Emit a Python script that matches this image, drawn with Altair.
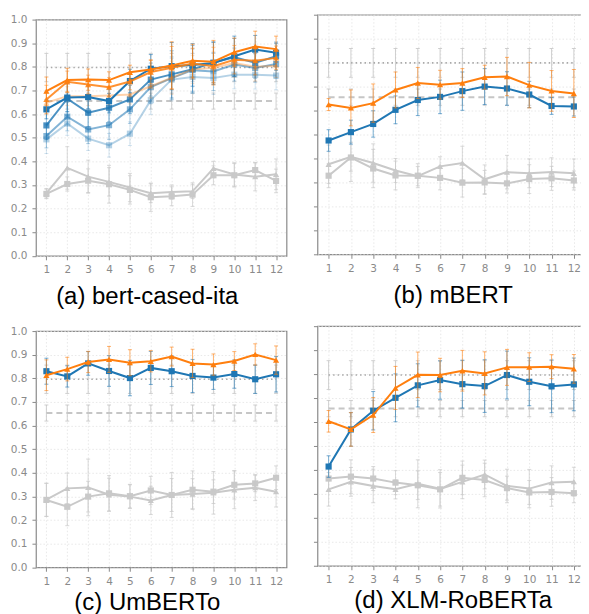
import altair as alt
import pandas as pd

LAYERS = list(range(1, 13))
Y_TICKS = [round(i * 0.1, 1) for i in range(11)]

ORANGE = "#ff7f0e"
BLUE = "#1f77b4"
GREY = "#c9c9c9"

# ---------------- (a) bert-cased-ita ----------------
A_O1 = [0.697, 0.744, 0.746, 0.744, 0.777, 0.789, 0.806, 0.826, 0.822, 0.862, 0.886, 0.875]
A_O1_ERR = [0.06, 0.05, 0.045, 0.035, 0.03, 0.04, 0.10, 0.07, 0.09, 0.06, 0.065, 0.055]
A_O2 = [0.662, 0.737, 0.725, 0.714, 0.738, 0.778, 0.796, 0.814, 0.803, 0.830, 0.826, 0.838]
A_O2_ERR = [0.06, 0.045, 0.04, 0.04, 0.035, 0.05, 0.09, 0.065, 0.08, 0.06, 0.06, 0.05]
A_O3 = [0.648, 0.676, 0.676, 0.679, 0.683, 0.718, 0.754, 0.789, 0.796, 0.816, 0.800, 0.805]
A_O3_ERR = [0.05, 0.04, 0.04, 0.04, 0.04, 0.05, 0.07, 0.06, 0.07, 0.06, 0.06, 0.05]
A_B1 = [0.620, 0.670, 0.672, 0.655, 0.740, 0.792, 0.803, 0.808, 0.816, 0.845, 0.873, 0.860]
A_B1_ERR = [0.04, 0.06, 0.05, 0.05, 0.05, 0.06, 0.10, 0.09, 0.09, 0.085, 0.06, 0.04]
A_B2 = [0.552, 0.665, 0.606, 0.627, 0.662, 0.746, 0.768, 0.790, 0.818, 0.840, 0.817, 0.845]
A_B2_ERR = [0.06, 0.07, 0.06, 0.06, 0.06, 0.07, 0.10, 0.10, 0.085, 0.08, 0.065, 0.06]
A_B3 = [0.507, 0.589, 0.535, 0.553, 0.620, 0.714, 0.752, 0.786, 0.780, 0.810, 0.795, 0.812]
A_B3_ERR = [0.05, 0.06, 0.06, 0.06, 0.06, 0.07, 0.09, 0.09, 0.08, 0.07, 0.06, 0.06]
A_B4 = [0.493, 0.560, 0.496, 0.468, 0.517, 0.659, 0.746, 0.757, 0.753, 0.767, 0.766, 0.763]
A_B4_ERR = [0.06, 0.05, 0.05, 0.05, 0.05, 0.06, 0.09, 0.07, 0.07, 0.06, 0.06, 0.06]
A_GT = [0.265, 0.372, 0.335, 0.313, 0.289, 0.265, 0.270, 0.273, 0.370, 0.344, 0.335, 0.345]
A_GT_ERR = [0.02, 0.09, 0.07, 0.06, 0.06, 0.04, 0.03, 0.03, 0.03, 0.05, 0.06, 0.065]
A_GS = [0.262, 0.304, 0.318, 0.303, 0.279, 0.248, 0.252, 0.259, 0.341, 0.341, 0.363, 0.317]
A_GS_ERR = [0.02, 0.03, 0.05, 0.08, 0.06, 0.06, 0.04, 0.05, 0.04, 0.05, 0.03, 0.05]

# ---------------- (b) mBERT ----------------
B_O = [0.625, 0.611, 0.631, 0.686, 0.715, 0.708, 0.715, 0.739, 0.742, 0.706, 0.682, 0.671]
B_O_ERR = [0.025, 0.075, 0.08, 0.075, 0.065, 0.06, 0.06, 0.05, 0.08, 0.095, 0.085, 0.10]
B_B = [0.475, 0.510, 0.544, 0.603, 0.644, 0.657, 0.681, 0.700, 0.692, 0.667, 0.619, 0.617]
B_B_ERR = [0.045, 0.05, 0.055, 0.058, 0.065, 0.07, 0.08, 0.075, 0.07, 0.055, 0.035, 0.04]
B_GT = [0.376, 0.407, 0.381, 0.350, 0.326, 0.367, 0.381, 0.313, 0.343, 0.338, 0.343, 0.338]
B_GT_ERR = [0.08, 0.06, 0.08, 0.05, 0.04, 0.04, 0.07, 0.06, 0.07, 0.06, 0.06, 0.06]
B_GS = [0.328, 0.404, 0.358, 0.329, 0.328, 0.319, 0.299, 0.300, 0.296, 0.314, 0.317, 0.308]
B_GS_ERR = [0.05, 0.10, 0.08, 0.06, 0.05, 0.05, 0.06, 0.05, 0.04, 0.06, 0.05, 0.04]

# ---------------- (c) UmBERTo ----------------
C_O = [0.813, 0.839, 0.869, 0.880, 0.866, 0.872, 0.892, 0.863, 0.858, 0.873, 0.901, 0.877]
C_O_ERR = [0.065, 0.05, 0.045, 0.055, 0.055, 0.045, 0.04, 0.06, 0.045, 0.04, 0.045, 0.06]
C_B = [0.830, 0.808, 0.863, 0.831, 0.801, 0.844, 0.830, 0.810, 0.803, 0.818, 0.796, 0.817]
C_B_ERR = [0.055, 0.045, 0.05, 0.065, 0.075, 0.07, 0.065, 0.07, 0.05, 0.06, 0.06, 0.075]
C_GT = [0.286, 0.334, 0.338, 0.307, 0.299, 0.283, 0.306, 0.310, 0.315, 0.328, 0.337, 0.320]
C_GT_ERR = [0.07, 0.065, 0.12, 0.07, 0.05, 0.06, 0.095, 0.065, 0.09, 0.08, 0.055, 0.065]
C_GS = [0.285, 0.256, 0.299, 0.313, 0.301, 0.325, 0.306, 0.328, 0.320, 0.349, 0.355, 0.379]
C_GS_ERR = [0.07, 0.08, 0.065, 0.075, 0.05, 0.06, 0.07, 0.08, 0.05, 0.06, 0.035, 0.05]

# ---------------- (d) XLM-RoBERTa ----------------
D_O = [0.603, 0.569, 0.629, 0.742, 0.797, 0.796, 0.814, 0.803, 0.828, 0.829, 0.831, 0.822]
D_O_ERR = [0.045, 0.07, 0.073, 0.09, 0.095, 0.07, 0.085, 0.09, 0.075, 0.06, 0.05, 0.06]
D_B = [0.414, 0.569, 0.647, 0.701, 0.753, 0.775, 0.758, 0.750, 0.796, 0.768, 0.749, 0.757]
D_B_ERR = [0.045, 0.07, 0.08, 0.10, 0.09, 0.08, 0.10, 0.11, 0.10, 0.10, 0.11, 0.11]
D_GT = [0.319, 0.350, 0.333, 0.319, 0.342, 0.321, 0.350, 0.381, 0.333, 0.322, 0.347, 0.351]
D_GT_ERR = [0.07, 0.06, 0.07, 0.04, 0.10, 0.08, 0.07, 0.06, 0.07, 0.08, 0.07, 0.06]
D_GS = [0.364, 0.372, 0.364, 0.347, 0.336, 0.319, 0.367, 0.358, 0.324, 0.306, 0.308, 0.303]
D_GS_ERR = [0.05, 0.07, 0.05, 0.05, 0.06, 0.07, 0.07, 0.07, 0.05, 0.05, 0.06, 0.04]

# reference baselines (dotted / dashed) with their spread
REF_DOTTED = [0.797, 0.799, 0.796, 0.796]
REF_DOTTED_ERR = 0.06
REF_DASHED = [0.655, 0.656, 0.653, 0.656]
REF_DASHED_ERR = 0.034

TITLES = ["(a) bert-cased-ita", "(b) mBERT", "(c) UmBERTo", "(d) XLM-RoBERTa"]

LEFT_W, LEFT_H = 251, 236.6
RIGHT_W, RIGHT_H = 268, 240


def frame(vals, errs):
    return pd.DataFrame({
        "layer": LAYERS,
        "acc": vals,
        "lo": [v - e for v, e in zip(vals, errs)],
        "hi": [v + e for v, e in zip(vals, errs)],
    })


def enc_x():
    return alt.X("layer:Q", scale=alt.Scale(domain=[0.5, 12.5], nice=False, zero=False),
                 axis=alt.Axis(values=LAYERS, title=None, format="d"))


def enc_y(field, labels):
    return alt.Y(field, scale=alt.Scale(domain=[0, 1], nice=False, zero=False),
                 axis=alt.Axis(values=Y_TICKS, title=None, format=".1f", labels=labels))


def series(df, color, opacity, shape, labels, err_op=None, size=38, sw=2):
    eo = opacity * 0.6 if err_op is None else err_op
    base = alt.Chart(df)
    rule = base.mark_rule(color=color, opacity=eo, strokeWidth=1).encode(
        x=enc_x(), y=enc_y("lo:Q", labels), y2="hi:Q")
    caps = base.transform_fold(["lo", "hi"], as_=["k", "v"]).mark_tick(
        orient="horizontal", size=4, thickness=1, color=color, opacity=eo).encode(
        x=enc_x(), y=enc_y("v:Q", labels))
    line = base.mark_line(color=color, opacity=opacity, strokeWidth=sw).encode(
        x=enc_x(), y=enc_y("acc:Q", labels))
    pts = base.mark_point(shape=shape, filled=True, size=size, color=color,
                          opacity=opacity, strokeWidth=0).encode(
        x=enc_x(), y=enc_y("acc:Q", labels))
    return [rule, caps, line, pts]


def reference(val, err, dash, color, width, labels):
    df = frame([val] * 12, [err] * 12)
    base = alt.Chart(df)
    rule = base.mark_rule(color="#c4c4c4", opacity=0.8, strokeWidth=1).encode(
        x=enc_x(), y=enc_y("lo:Q", labels), y2="hi:Q")
    caps = base.transform_fold(["lo", "hi"], as_=["k", "v"]).mark_tick(
        orient="horizontal", size=4, thickness=1, color="#c4c4c4", opacity=0.8).encode(
        x=enc_x(), y=enc_y("v:Q", labels))
    line = base.mark_line(color=color, strokeDash=dash, strokeWidth=width).encode(
        x=enc_x(), y=enc_y("acc:Q", labels))
    return [rule, caps], [line]


def panel(idx, groups, labels, w, h, dx, toff):
    r1e, r1l = reference(REF_DOTTED[idx], REF_DOTTED_ERR, [1.5, 3], "#a9a9a9", 1.6, labels)
    r2e, r2l = reference(REF_DASHED[idx], REF_DASHED_ERR, [6, 4], "#c6c6c6", 2, labels)
    layers = r1e + r2e + r1l + r2l
    for g in groups:
        layers += series(g[0], g[1], g[2], g[3], labels, *g[4:])
    return alt.layer(*layers).properties(
        width=w, height=h,
        title=alt.TitleParams(TITLES[idx], orient="bottom", anchor="middle",
                              font="Liberation Sans", fontSize=24, fontWeight="normal",
                              color="black", offset=toff, dx=dx, baseline="top"))


def spacer():
    return alt.Chart(pd.DataFrame({"layer": [1]})).mark_point(opacity=0, size=0).encode(
        x=alt.value(0), y=alt.value(0)
    ).properties(width=10, height=1, view={"stroke": "transparent", "strokeWidth": 0})


pa = panel(0, [
    (frame(A_GS, A_GS_ERR), GREY, 1.0, "square", 0.7),
    (frame(A_GT, A_GT_ERR), GREY, 1.0, "triangle-up", 0.7),
    (frame(A_B4, A_B4_ERR), BLUE, 0.33, "square"),
    (frame(A_B3, A_B3_ERR), BLUE, 0.55, "square"),
    (frame(A_B2, A_B2_ERR), BLUE, 0.8, "square"),
    (frame(A_O3, A_O3_ERR), ORANGE, 0.35, "triangle-up"),
    (frame(A_B1, A_B1_ERR), BLUE, 1.0, "square"),
    (frame(A_O2, A_O2_ERR), ORANGE, 0.85, "triangle-up"),
    (frame(A_O1, A_O1_ERR), ORANGE, 1.0, "triangle-up"),
], True, LEFT_W, LEFT_H, -14, 10)

pb = panel(1, [
    (frame(B_GS, B_GS_ERR), GREY, 1.0, "square", 0.7),
    (frame(B_GT, B_GT_ERR), GREY, 1.0, "triangle-up", 0.7),
    (frame(B_B, B_B_ERR), BLUE, 1.0, "square"),
    (frame(B_O, B_O_ERR), ORANGE, 1.0, "triangle-up"),
], False, RIGHT_W, RIGHT_H, 2, 10)

pc = panel(2, [
    (frame(C_GS, C_GS_ERR), GREY, 1.0, "square", 0.7),
    (frame(C_GT, C_GT_ERR), GREY, 1.0, "triangle-up", 0.7),
    (frame(C_B, C_B_ERR), BLUE, 1.0, "square"),
    (frame(C_O, C_O_ERR), ORANGE, 1.0, "triangle-up"),
], True, LEFT_W, LEFT_H, -14, 4)

pd_ = panel(3, [
    (frame(D_GS, D_GS_ERR), GREY, 1.0, "square", 0.7),
    (frame(D_GT, D_GT_ERR), GREY, 1.0, "triangle-up", 0.7),
    (frame(D_B, D_B_ERR), BLUE, 1.0, "square"),
    (frame(D_O, D_O_ERR), ORANGE, 1.0, "triangle-up"),
], False, RIGHT_W, RIGHT_H, 2, 4)

SHIFT = -2.1

chart = alt.vconcat(
    alt.hconcat(alt.vconcat(spacer(), pa, spacing=SHIFT), pb, spacing=24),
    alt.hconcat(alt.vconcat(spacer(), pc, spacing=SHIFT), pd_, spacing=24),
    spacing=14,
).properties(
    padding={"left": 1, "top": 4.2, "right": -5, "bottom": 0},
    background="white",
).configure_view(
    stroke="#8a8a8a", strokeWidth=1.2,
).configure_axis(
    domain=False, tickColor="#8a8a8a", tickSize=4, tickWidth=1,
    labelColor="#8a8a8a", labelFont="DejaVu Sans", labelFontSize=10.5,
    labelPadding=5, labelFlush=False, labelOverlap=False,
    gridColor="#e2e2e2", gridDash=[1.5, 2], gridWidth=0.8,
)

chart.save("out.html", embed_options={"renderer": "svg", "actions": False})
